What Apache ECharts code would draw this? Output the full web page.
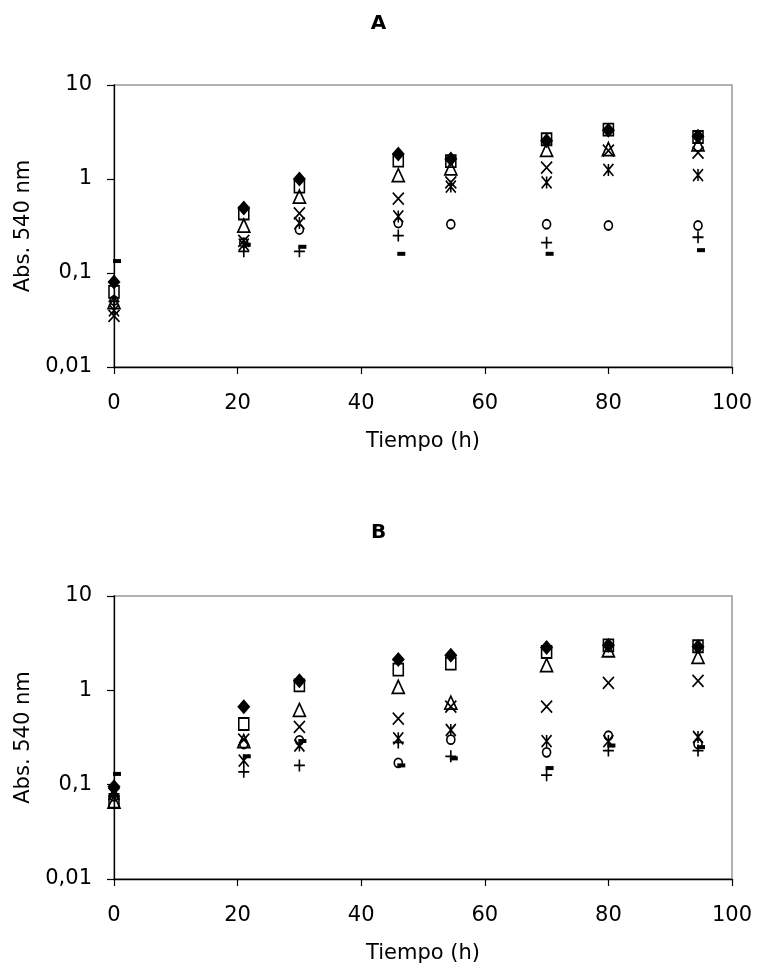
<!DOCTYPE html>
<html>
<head>
<meta charset="utf-8">
<script src="https://cdn.jsdelivr.net/npm/echarts@6/dist/echarts.min.js"></script>
<style>
  html, body { margin: 0; padding: 0; background: #fff; }
  #chart { width: 757px; height: 972px; }
</style>
</head>
<body>
<div id="chart"></div>
<script>
// Sampling times (h)
const tiempo = [0, 21, 30, 46, 54.5, 70, 80, 94.5];
const xTicks = [0, 20, 40, 60, 80, 100];
const yTicks = [0.01, 0.1, 1, 10];

// Panel A: absorbance at 540 nm
const aDiamond  = [0.080, 0.49, 1.00, 1.85, 1.63, 2.55, 3.30, 2.85];
const aSquare   = [0.063, 0.43, 0.83, 1.57, 1.55, 2.65, 3.35, 2.80];
const aTriangle = [0.049, 0.32, 0.65, 1.10, 1.30, 2.04, 2.08, 2.33];
const aCross    = [0.035, 0.22, 0.43, 0.62, 0.92, 1.32, 2.00, 1.91];
const aStar     = [0.040, 0.20, 0.34, 0.40, 0.83, 0.92, 1.25, 1.10];
const aCircle   = [0.051, 0.21, 0.29, 0.34, 0.33, 0.33, 0.32, 0.32];
const aPlus     = [0.050, 0.17, 0.17, 0.25, null, 0.21, null, 0.24];
const aDash     = [0.134, 0.20, 0.19, 0.16, null, 0.16, null, 0.175];

// Panel B: absorbance at 540 nm
const bDiamond  = [0.095, 0.67, 1.26, 2.12, 2.35, 2.84, 3.00, 2.90];
const bSquare   = [0.066, 0.44, 1.13, 1.66, 1.92, 2.55, 3.00, 2.93];
const bTriangle = [0.066, 0.29, 0.62, 1.09, 0.74, 1.85, 2.66, 2.26];
const bCross    = [0.080, 0.30, 0.41, 0.50, 0.67, 0.67, 1.20, 1.26];
const bStar     = [0.085, 0.18, 0.26, 0.31, 0.38, 0.29, 0.29, 0.32];
const bCircle   = [0.075, 0.27, 0.295, 0.17, 0.30, 0.22, 0.33, 0.27];
const bPlus     = [0.080, 0.137, 0.16, 0.28, 0.20, 0.126, 0.23, 0.23];
const bDash     = [0.130, 0.20, 0.29, 0.16, 0.19, 0.15, 0.26, 0.25];

const FONT = 'DejaVu Sans';
const LW = 1.7;

// Marker styles, one per series (Excel-like markers)
const markers = [
  { name: 'S1', symbol: 'diamond', size: [13, 15], fill: '#000', stroke: '#000', bw: 0 },
  { name: 'S2', symbol: 'rect', size: [10, 12], fill: 'rgba(0,0,0,0)', stroke: '#000', bw: LW },
  { name: 'S3', symbol: 'triangle', size: [12, 13], fill: 'rgba(0,0,0,0)', stroke: '#000', bw: LW },
  { name: 'S4', symbol: 'path://M0,0L10,10M10,0L0,10', size: [11, 12], fill: 'rgba(0,0,0,0)', stroke: '#000', bw: LW },
  { name: 'S5', symbol: 'path://M0,0L10,10M10,0L0,10M5,0L5,10', size: [10, 12], fill: 'rgba(0,0,0,0)', stroke: '#000', bw: LW },
  { name: 'S6', symbol: 'circle', size: [8, 9], fill: 'rgba(0,0,0,0)', stroke: '#000', bw: LW },
  { name: 'S7', symbol: 'path://M5,0L5,10M0,5L10,5', size: [11, 12], fill: 'rgba(0,0,0,0)', stroke: '#000', bw: LW },
  { name: 'S8', symbol: 'rect', size: [8, 4], fill: '#000', stroke: '#000', bw: 0, offset: [3, 0] }
];

const panelA = [aDiamond, aSquare, aTriangle, aCross, aStar, aCircle, aPlus, aDash];
const panelB = [bDiamond, bSquare, bTriangle, bCross, bStar, bCircle, bPlus, bDash];

function fmtNum(v) {
  const n = Number(Number(v).toPrecision(3));
  return String(n).replace('.', ',');
}

function makeSeries(values, idx) {
  return values.map((vals, k) => {
    const m = markers[k];
    return {
      name: m.name,
      type: 'scatter',
      xAxisIndex: idx,
      yAxisIndex: idx,
      clip: false,
      symbol: m.symbol,
      symbolSize: m.size,
      symbolOffset: m.offset || [0, 0],
      itemStyle: { color: m.fill, borderColor: m.stroke, borderWidth: m.bw, opacity: 1 },
      emphasis: { disabled: true },
      data: tiempo.map((t, i) => vals[i] == null ? null : [t, vals[i]]).filter(d => d)
    };
  });
}

function xAxisFor(idx) {
  return {
    type: 'value', gridIndex: idx,
    min: xTicks[0], max: xTicks[xTicks.length - 1], interval: 20,
    name: 'Tiempo (h)', nameLocation: 'middle', nameGap: 64,
    nameTextStyle: { fontFamily: FONT, fontSize: 21, color: '#000' },
    axisLine: { show: true, onZero: false, lineStyle: { color: '#000', width: 1.3 } },
    axisTick: { show: true, inside: false, length: 7, lineStyle: { color: '#000', width: 1.2 } },
    axisLabel: { fontFamily: FONT, fontSize: 21, color: '#000', margin: 26 },
    splitLine: { show: false }
  };
}

function yAxisFor(idx) {
  return {
    type: 'log', logBase: 10, gridIndex: idx,
    min: yTicks[0], max: yTicks[yTicks.length - 1],
    name: 'Abs. 540 nm', nameLocation: 'middle', nameGap: 80, nameRotate: 90,
    nameTextStyle: { fontFamily: FONT, fontSize: 21, color: '#000' },
    axisLine: { show: true, onZero: false, lineStyle: { color: '#000', width: 1.3 } },
    axisTick: { show: true, inside: false, length: 7, lineStyle: { color: '#000', width: 1.2 } },
    axisLabel: { fontFamily: FONT, fontSize: 21, color: '#000', margin: 22, formatter: fmtNum },
    minorTick: { show: false },
    splitLine: { show: false }
  };
}

const chart = echarts.init(document.getElementById('chart'), null, { renderer: 'canvas' });
chart.setOption({
  animation: false,
  backgroundColor: '#fff',
  title: [
    { text: 'A', left: 'center', top: 9, textStyle: { fontFamily: FONT, fontWeight: 'bold', fontSize: 20, color: '#000' } },
    { text: 'B', left: 'center', top: 518, textStyle: { fontFamily: FONT, fontWeight: 'bold', fontSize: 20, color: '#000' } }
  ],
  grid: [
    { left: 114, right: 25, top: 85, height: 282, show: true, borderColor: '#999', borderWidth: 1.5, backgroundColor: 'transparent' },
    { left: 114, right: 25, top: 596, height: 283, show: true, borderColor: '#999', borderWidth: 1.5, backgroundColor: 'transparent' }
  ],
  xAxis: [xAxisFor(0), xAxisFor(1)],
  yAxis: [yAxisFor(0), yAxisFor(1)],
  series: makeSeries(panelA, 0).concat(makeSeries(panelB, 1))
});
</script>
</body>
</html>
